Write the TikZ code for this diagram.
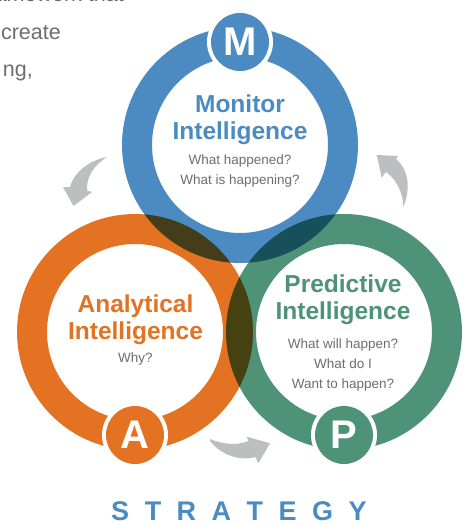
\documentclass[tikz,border=0pt]{standalone}
\usepackage{fontspec}
\setmainfont{Liberation Sans}
\definecolor{mblue}{HTML}{4C8BC2}
\definecolor{morange}{HTML}{E37222}
\definecolor{mgreen}{HTML}{4E9378}
\definecolor{txtgray}{HTML}{6D6E71}
\definecolor{arrgray}{HTML}{BCBEC0}
\tikzset{
  ring/.style={line width=30pt},
  badgewhite/.style={fill=white},
  badgeletter/.style={text=white,font=\bfseries\fontsize{40}{40}\selectfont,inner sep=0pt},
  titletext/.style={font=\bfseries\fontsize{24.5}{28}\selectfont,anchor=base,inner sep=0pt},
  subtext/.style={font=\fontsize{13.5}{20}\selectfont,text=txtgray,anchor=base,inner sep=0pt},
  paratext/.style={font=\fontsize{21.5}{38}\selectfont,text=txtgray,anchor=base east,inner sep=0pt},
  curvearrow/.style={fill=arrgray}
}
\begin{document}
\begin{tikzpicture}[x=1pt,y=-1pt]
\fill[white] (0,0) rectangle (468,525);
\useasboundingbox (0,0) rectangle (468,525);

% cut-off paragraph at top-left
\node[paratext] (p1) at (124,1.5) {framework that};
\node[paratext] (p2) at (61,39.5) {create};
\node[paratext] (p3) at (33,76) {ng,};

% rings
\coordinate (cM) at (240,145);
\coordinate (cA) at (135,332);
\coordinate (cP) at (344,332);
\begin{scope}[blend group=multiply]
  \draw[ring,mblue] (cM) circle[radius=103];
  \draw[ring,morange] (cA) circle[radius=103];
  \draw[ring,mgreen] (cP) circle[radius=103];
\end{scope}

% badges
\fill[badgewhite] (240,42) circle[radius=33];
\fill[mblue] (240,42) circle[radius=29];
\node[badgeletter] (bM) at (240,42) {M};
\fill[badgewhite] (135,435) circle[radius=33];
\fill[morange] (135,435) circle[radius=29];
\node[badgeletter] (bA) at (135,435) {A};
\fill[badgewhite] (344,435) circle[radius=33];
\fill[mgreen] (344,435) circle[radius=29];
\node[badgeletter] (bP) at (344,435) {P};

% texts
\node[titletext,text=mblue] (m1) at (240,112.5) {Monitor};
\node[titletext,text=mblue] (m2) at (240,139.5) {Intelligence};
\node[subtext] (m3) at (240,164.5) {What happened?};
\node[subtext] (m4) at (240,184) {What is happening?};

\node[titletext,text=morange] (a1) at (135.5,312.5) {Analytical};
\node[titletext,text=morange] (a2) at (135.5,339.5) {Intelligence};
\node[subtext] (a3) at (135.5,362) {Why?};

\node[titletext,text=mgreen] (q1) at (343,292.5) {Predictive};
\node[titletext,text=mgreen] (q2) at (343,319.5) {Intelligence};
\node[subtext] (q3) at (343,348) {What will happen?};
\node[subtext] (q4) at (343,368) {What do I};
\node[subtext] (q5) at (343,388) {Want to happen?};

% curved arrows
\fill[curvearrow] (107,157) .. controls (90,160) and (74,172) .. (70,187)
  -- (63,187) -- (73.5,206) -- (92,192) -- (87,190.5)
  .. controls (86,177) and (94,165) .. (107,157) -- cycle;
\fill[curvearrow] (376.7,155) -- (398.3,156) -- (396,159)
  .. controls (407,168) and (412,186) .. (403.3,206.7)
  .. controls (403,193) and (397,180) .. (386,172)
  -- (381.7,177.7) -- cycle;
\fill[curvearrow] (210,439) .. controls (222,444) and (236,446) .. (248.5,441)
  -- (246.7,436.7) -- (270,443.3) -- (258.3,463.3) -- (255.5,457)
  .. controls (240,461) and (222,456) .. (210,441) -- cycle;

% strategy
\node[font=\bfseries\fontsize{27}{27}\selectfont,text=mblue,anchor=base,inner sep=0pt] (st) at (239,520.5)
  {S\hspace{15.5pt}T\hspace{15.5pt}R\hspace{15.5pt}A\hspace{15.5pt}T\hspace{15.5pt}E\hspace{15.5pt}G\hspace{15.5pt}Y};
\end{tikzpicture}
\end{document}
